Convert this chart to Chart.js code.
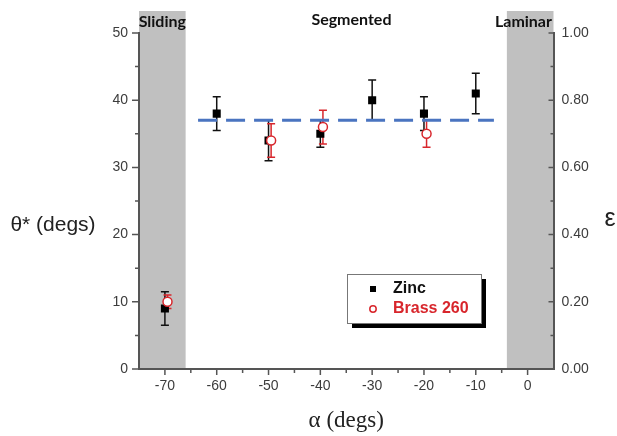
<!DOCTYPE html>
<html>
<head>
<meta charset="utf-8">
<script src="https://cdn.jsdelivr.net/npm/chart.js@4.4.1/dist/chart.umd.min.js"></script>
<style>
  html, body { margin: 0; padding: 0; background: #fff; }
  #wrap { width: 617px; height: 436px; }
</style>
</head>
<body>
<div id="wrap"><canvas id="chart" width="617" height="436"></canvas></div>
<script>
// tick labels
const alphaTicks = [-70, -60, -50, -40, -30, -20, -10, 0];
const thetaTicks = [0, 10, 20, 30, 40, 50];
const epsTicks = [0, 0.2, 0.4, 0.6, 0.8, 1.0];

// Zinc: theta* (left axis) with +/- error
const zincAlpha = [-70, -60, -50, -40, -30, -20, -10];
const zincTheta = [9, 38, 34, 35, 40, 38, 41];
const zincErr = [2.5, 2.5, 3, 2, 3, 2.5, 3];

// Brass 260: epsilon (right axis) with +/- error
const brassAlpha = [-69.5, -49.5, -39.5, -19.5];
const brassEps = [0.20, 0.68, 0.72, 0.70];
const brassErr = [0.02, 0.05, 0.05, 0.04];

// mean value over the segmented regime
const meanTheta = 37;
const meanSpan = [-63.6, -6.5];

// shaded regimes (alpha ranges)
const slidingBand = [-75, -66];
const laminarBand = [-4, 5];

const RED = '#d8262c';
const TICK_COLOR = '#3c3c3c';
const AXIS_COLOR = '#555';

function pts(xs, ys) {
  return xs.map((x, i) => ({ x: x, y: ys[i] }));
}

// grey bands for sliding / laminar, drawn under everything
const bandsPlugin = {
  id: 'bands',
  beforeDraw(chart) {
    const { ctx, chartArea, scales } = chart;
    ctx.save();
    ctx.fillStyle = '#c0c0c0';
    [slidingBand, laminarBand].forEach(b => {
      const x0 = scales.x.getPixelForValue(b[0]);
      const x1 = scales.x.getPixelForValue(b[1]);
      ctx.fillRect(x0, chartArea.top - 22, x1 - x0, chartArea.bottom - chartArea.top + 22);
    });
    ctx.restore();
  }
};

// vertical error bars with caps
const errorBarsPlugin = {
  id: 'errorBars',
  beforeDatasetsDraw(chart) {
    const { ctx, scales } = chart;
    const draw = (xs, ys, es, yScale, color) => {
      ctx.strokeStyle = color;
      ctx.lineWidth = 1.5;
      xs.forEach((xv, i) => {
        const px = scales.x.getPixelForValue(xv);
        const top = yScale.getPixelForValue(ys[i] + es[i]);
        const bot = yScale.getPixelForValue(ys[i] - es[i]);
        ctx.beginPath();
        ctx.moveTo(px, top); ctx.lineTo(px, bot);
        ctx.moveTo(px - 4, top); ctx.lineTo(px + 4, top);
        ctx.moveTo(px - 4, bot); ctx.lineTo(px + 4, bot);
        ctx.stroke();
      });
    };
    ctx.save();
    draw(zincAlpha, zincTheta, zincErr, scales.y, '#111');
    draw(brassAlpha, brassEps, brassErr, scales.y2, RED);
    ctx.restore();
  }
};

// tick marks (major + minor), titles, regime labels and the legend box
const decorPlugin = {
  id: 'decor',
  afterDraw(chart) {
    const { ctx, chartArea: ca, scales } = chart;
    ctx.save();
    ctx.strokeStyle = AXIS_COLOR;
    ctx.lineWidth = 1.5;
    ctx.beginPath();
    for (let v = 0; v <= 50; v += 5) {
      const py = scales.y.getPixelForValue(v);
      const len = v % 10 === 0 ? 7 : 4;
      ctx.moveTo(ca.left - len, py); ctx.lineTo(ca.left, py);
    }
    // right axis ticks point into the plot
    for (let v = 0; v <= 10; v += 1) {
      const py = scales.y2.getPixelForValue(v / 10);
      const len = v % 2 === 0 ? 5 : 3;
      ctx.moveTo(ca.right - len, py); ctx.lineTo(ca.right, py);
    }
    for (let v = -70; v <= 0; v += 5) {
      const px = scales.x.getPixelForValue(v);
      const len = v % 10 === 0 ? 6 : 4;
      ctx.moveTo(px, ca.bottom); ctx.lineTo(px, ca.bottom + len);
    }
    ctx.stroke();

    // axis titles
    ctx.fillStyle = '#222';
    ctx.textAlign = 'center';
    ctx.textBaseline = 'middle';
    ctx.font = '21px "Liberation Sans", Arial, sans-serif';
    ctx.fillText('\u03b8* (degs)', 53, ca.top + 192);
    ctx.font = '25px "Liberation Sans", Arial, sans-serif';
    ctx.fillText('\u03b5', 610, ca.top + 186);
    ctx.font = '23px "Liberation Serif", "Times New Roman", serif';
    ctx.fillText('\u03b1 (degs)', (ca.left + ca.right) / 2, ca.bottom + 52);

    // regime labels
    ctx.fillStyle = '#111';
    ctx.font = 'bold 16px Lato, "Liberation Sans", sans-serif';
    ctx.fillText('Sliding', scales.x.getPixelForValue(-70.5), ca.top - 11);
    ctx.fillText('Segmented', scales.x.getPixelForValue(-34), ca.top - 13);
    ctx.fillText('Laminar', scales.x.getPixelForValue(-0.8), ca.top - 11);

    // legend with drop shadow
    const lx = ca.left + 208, ly = ca.top + 241, lw = 134, lh = 49;
    ctx.fillStyle = '#000';
    ctx.fillRect(lx + 5, ly + 5, lw, lh);
    ctx.fillStyle = '#fff';
    ctx.fillRect(lx, ly, lw, lh);
    ctx.strokeStyle = '#777';
    ctx.lineWidth = 1;
    ctx.strokeRect(lx + 0.5, ly + 0.5, lw, lh);

    ctx.fillStyle = '#000';
    ctx.fillRect(lx + 23, ly + 12, 6, 6);
    ctx.strokeStyle = RED;
    ctx.lineWidth = 1.5;
    ctx.beginPath();
    ctx.arc(lx + 26, ly + 35, 3.2, 0, Math.PI * 2);
    ctx.stroke();

    ctx.textAlign = 'left';
    ctx.font = 'bold 16px "Liberation Sans", Arial, sans-serif';
    ctx.fillStyle = '#111';
    ctx.fillText('Zinc', lx + 46, ly + 15);
    ctx.fillStyle = RED;
    ctx.fillText('Brass 260', lx + 46, ly + 35);
    ctx.restore();
  }
};

const tickFont = { family: '"Liberation Sans", Arial, sans-serif', size: 14 };

new Chart(document.getElementById('chart'), {
  type: 'scatter',
  data: {
    datasets: [
      {
        label: 'Brass 260',
        data: pts(brassAlpha, brassEps),
        yAxisID: 'y2',
        pointStyle: 'circle',
        pointRadius: 4.5,
        pointBackgroundColor: '#fff',
        pointBorderColor: RED,
        pointBorderWidth: 1.5,
        order: 0
      },
      {
        label: 'Zinc',
        data: pts(zincAlpha, zincTheta),
        yAxisID: 'y',
        pointStyle: 'rect',
        pointRadius: 5.7,
        pointBackgroundColor: '#000',
        pointBorderColor: '#000',
        pointBorderWidth: 0,
        order: 1
      },
      {
        label: 'mean',
        type: 'line',
        data: meanSpan.map(x => ({ x: x, y: meanTheta })),
        yAxisID: 'y',
        borderColor: '#4a74c0',
        borderWidth: 3,
        borderDash: [19, 9],
        pointRadius: 0,
        order: 2
      }
    ]
  },
  options: {
    responsive: false,
    animation: false,
    devicePixelRatio: 1,
    layout: { padding: { top: 33, left: 0, right: 0, bottom: 0 } },
    plugins: { legend: { display: false }, tooltip: { enabled: false } },
    scales: {
      x: {
        type: 'linear',
        min: -75,
        max: 5,
        afterBuildTicks: s => { s.ticks = alphaTicks.map(v => ({ value: v })); },
        afterFit: s => { s.height = 67; },
        grid: { display: false, drawTicks: false },
        border: { display: true, color: AXIS_COLOR, width: 2 },
        ticks: { font: tickFont, color: TICK_COLOR, padding: 9 }
      },
      y: {
        position: 'left',
        min: 0,
        max: 50,
        afterBuildTicks: s => { s.ticks = thetaTicks.map(v => ({ value: v })); },
        afterFit: s => { s.width = 139; },
        grid: { display: false, drawTicks: false },
        border: { display: true, color: AXIS_COLOR, width: 2 },
        ticks: { font: tickFont, color: TICK_COLOR, padding: 11 }
      },
      y2: {
        position: 'right',
        min: 0,
        max: 1,
        afterBuildTicks: s => { s.ticks = epsTicks.map(v => ({ value: v })); },
        afterFit: s => { s.width = 63.5; },
        grid: { display: false, drawTicks: false },
        border: { display: true, color: AXIS_COLOR, width: 2 },
        ticks: { font: tickFont, color: TICK_COLOR, padding: 8, callback: v => v.toFixed(2) }
      }
    }
  },
  plugins: [bandsPlugin, errorBarsPlugin, decorPlugin]
});
</script>
</body>
</html>
